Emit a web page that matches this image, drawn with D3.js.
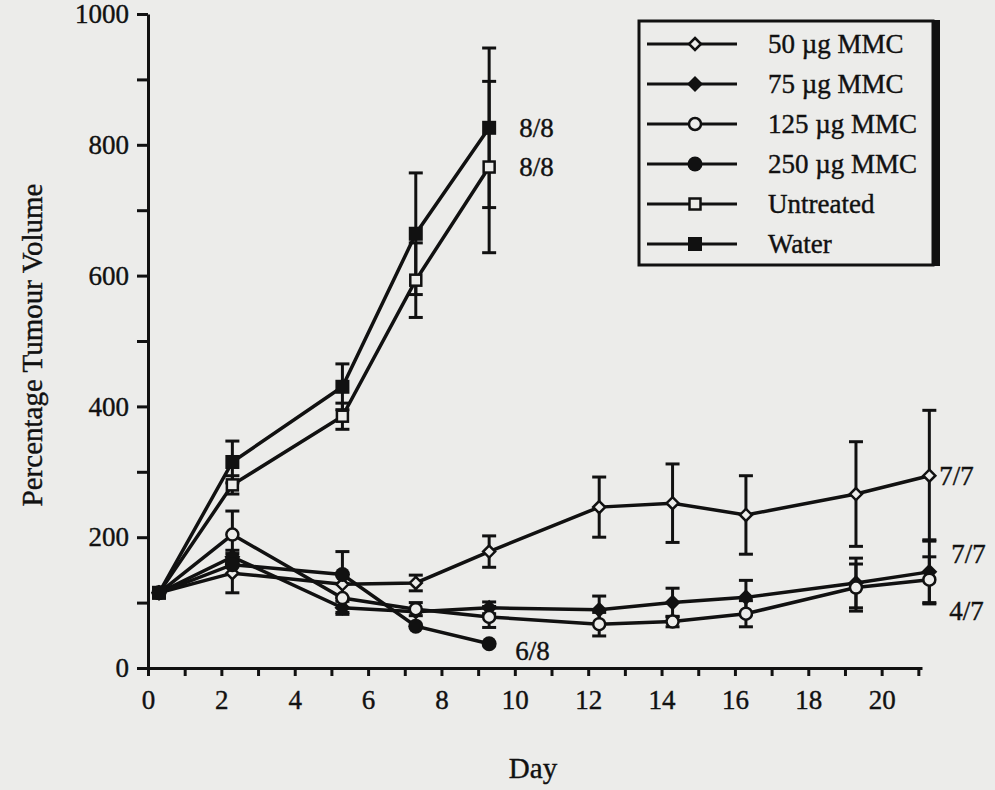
<!DOCTYPE html>
<html>
<head>
<meta charset="utf-8">
<script src="https://cdn.jsdelivr.net/npm/d3@7"></script>
<style>
  body { margin: 0; background: #ececea; }
  text { font-family: "Liberation Serif", "Times New Roman", serif; fill: #111; stroke: #111; stroke-width: 0.4px; }
</style>
</head>
<body>
<script>
// days the measurements were taken (points sit a little right of the day ticks)
var days = [0.3, 2.3, 5.3, 7.3, 9.3, 12.3, 14.3, 16.3, 19.3, 21.3];

var seriesNames = ["50 µg MMC", "75 µg MMC", "125 µg MMC", "250 µg MMC", "Untreated", "Water"];

// percentage tumour volume
var mmc50 = [115, 145, 128, 130, 178, 246, 252, 234, 266, 294];
var mmc75 = [115, 170, 92, 86, 92, 89, 100, 108, 130, 147];
var mmc125 = [115, 204, 107, 90, 78, 67, 71, 83, 123, 135];
var mmc250 = [115, 158, 143, 64, 37];
var untreated = [115, 280, 385, 593, 766];
var water = [115, 315, 430, 664, 826];

// error bar half-widths (null = no bar drawn)
var mmc50Err = [null, 30, null, 12, 24, 46, 60, 60, 80, 100];
var mmc75Err = [null, 10, 10, null, 9, 21, 22, 26, 38, 49];
var mmc125Err = [null, 36, 22, 10, 16, 18, 8, 20, 36, 35];
var mmc250Err = [null, null, 35, null, null];
var untreatedErr = [null, 14, 20, 57, 131];
var waterErr = [null, 32, 35, 93, 122];

// survivors at the end of each series
var survivors = ["7/7", "7/7", "4/7", "6/8", "8/8", "8/8"];

var width = 995, height = 790;
var bg = "#ececea";

var svg = d3.select("body").append("svg")
    .attr("width", width)
    .attr("height", height);

svg.append("rect")
    .attr("width", width)
    .attr("height", height)
    .attr("fill", bg);

var x = d3.scaleLinear().domain([0, 21.1]).range([148, 922]);
var y = d3.scaleLinear().domain([0, 1000]).range([668, 14]);

// axes
var xAxis = d3.axisBottom(x)
    .tickValues(d3.range(0, 22, 1))
    .tickFormat(function(d) { return (d % 2 === 0 && d <= 20) ? d : ""; })
    .tickSize(8)
    .tickSizeOuter(0)
    .tickPadding(14);

var yAxis = d3.axisLeft(y)
    .tickValues(d3.range(0, 1001, 100))
    .tickFormat(function(d) { return d % 200 === 0 ? d : ""; })
    .tickSize(11)
    .tickSizeOuter(0)
    .tickPadding(8);

var gx = svg.append("g")
    .attr("transform", "translate(0," + y(0) + ")")
    .call(xAxis);

var gy = svg.append("g")
    .attr("transform", "translate(" + x(0) + ",0)")
    .call(yAxis);

[gx, gy].forEach(function(g) {
  g.select(".domain").attr("stroke", "#111").attr("stroke-width", 3);
  g.selectAll(".tick line").attr("stroke", "#111").attr("stroke-width", 3);
  g.selectAll(".tick text")
    .attr("font-size", 27)
    .attr("font-family", "Liberation Serif")
    .attr("fill", "#111");
});

// axis titles
svg.append("text")
    .attr("x", 533)
    .attr("y", 778)
    .attr("text-anchor", "middle")
    .attr("font-size", 29)
    .text("Day");

svg.append("text")
    .attr("transform", "translate(42,345) rotate(-90)")
    .attr("text-anchor", "middle")
    .attr("font-size", 29)
    .text("Percentage Tumour Volume");

// marker shapes
function drawMarker(g, type) {
  if (type === "openDiamond") {
    g.append("path").attr("d", "M0,-6L6,0L0,6L-6,0Z")
      .attr("fill", bg).attr("stroke", "#111").attr("stroke-width", 2.5);
  } else if (type === "filledDiamond") {
    g.append("path").attr("d", "M0,-8L8,0L0,8L-8,0Z")
      .attr("fill", "#111");
  } else if (type === "openCircle") {
    g.append("circle").attr("r", 6)
      .attr("fill", bg).attr("stroke", "#111").attr("stroke-width", 2.5);
  } else if (type === "filledCircle") {
    g.append("circle").attr("r", 7.5).attr("fill", "#111");
  } else if (type === "openSquare") {
    g.append("rect").attr("x", -5.5).attr("y", -5.5).attr("width", 11).attr("height", 11)
      .attr("fill", bg).attr("stroke", "#111").attr("stroke-width", 2.5);
  } else {
    g.append("rect").attr("x", -7).attr("y", -7).attr("width", 14).attr("height", 14)
      .attr("fill", "#111");
  }
}

var markers = ["openDiamond", "filledDiamond", "openCircle", "filledCircle", "openSquare", "filledSquare"];
var values = [mmc50, mmc75, mmc125, mmc250, untreated, water];
var errors = [mmc50Err, mmc75Err, mmc125Err, mmc250Err, untreatedErr, waterErr];
// where the survivor label sits relative to the last point
var labelOffset = [[10, 9], [22, -9], [20, 40], [26, 16], [30, 9], [30, 9]];

var line = d3.line()
    .x(function(d) { return x(d.day); })
    .y(function(d) { return y(d.v); });

var series = seriesNames.map(function(name, i) {
  return {
    name: name,
    marker: markers[i],
    points: values[i].map(function(v, j) {
      return { day: days[j], v: v, err: errors[i][j] };
    })
  };
});

// error bars first, then lines, then markers
series.forEach(function(s) {
  var eb = svg.append("g");
  s.points.filter(function(p) { return p.err != null; }).forEach(function(p) {
    var cx = x(p.day), top = y(p.v + p.err), bot = y(p.v - p.err);
    eb.append("line").attr("x1", cx).attr("x2", cx).attr("y1", top).attr("y2", bot)
      .attr("stroke", "#111").attr("stroke-width", 3);
    [top, bot].forEach(function(cy) {
      eb.append("line").attr("x1", cx - 7).attr("x2", cx + 7).attr("y1", cy).attr("y2", cy)
        .attr("stroke", "#111").attr("stroke-width", 3);
    });
  });
});

series.forEach(function(s) {
  svg.append("path")
      .datum(s.points)
      .attr("fill", "none")
      .attr("stroke", "#111")
      .attr("stroke-width", 3.5)
      .attr("d", line);
});

series.forEach(function(s, i) {
  s.points.forEach(function(p) {
    var g = svg.append("g").attr("transform", "translate(" + x(p.day) + "," + y(p.v) + ")");
    drawMarker(g, s.marker);
  });
  var last = s.points[s.points.length - 1];
  svg.append("text")
      .attr("x", x(last.day) + labelOffset[i][0])
      .attr("y", y(last.v) + labelOffset[i][1])
      .attr("font-size", 27)
      .text(survivors[i]);
});

// legend
var legend = svg.append("g");
legend.append("rect")
    .attr("x", 933).attr("y", 20).attr("width", 7).attr("height", 246)
    .attr("fill", "#111");
legend.append("rect")
    .attr("x", 639).attr("y", 21).attr("width", 294).attr("height", 244)
    .attr("fill", bg).attr("stroke", "#111").attr("stroke-width", 3);

seriesNames.forEach(function(name, i) {
  var ly = 44 + i * 40;
  legend.append("line")
      .attr("x1", 647).attr("x2", 737).attr("y1", ly).attr("y2", ly)
      .attr("stroke", "#111").attr("stroke-width", 3);
  var g = legend.append("g").attr("transform", "translate(695," + ly + ")");
  drawMarker(g, markers[i]);
  legend.append("text")
      .attr("x", 768)
      .attr("y", ly + 9)
      .attr("font-size", 27)
      .text(name);
});
</script>
</body>
</html>
